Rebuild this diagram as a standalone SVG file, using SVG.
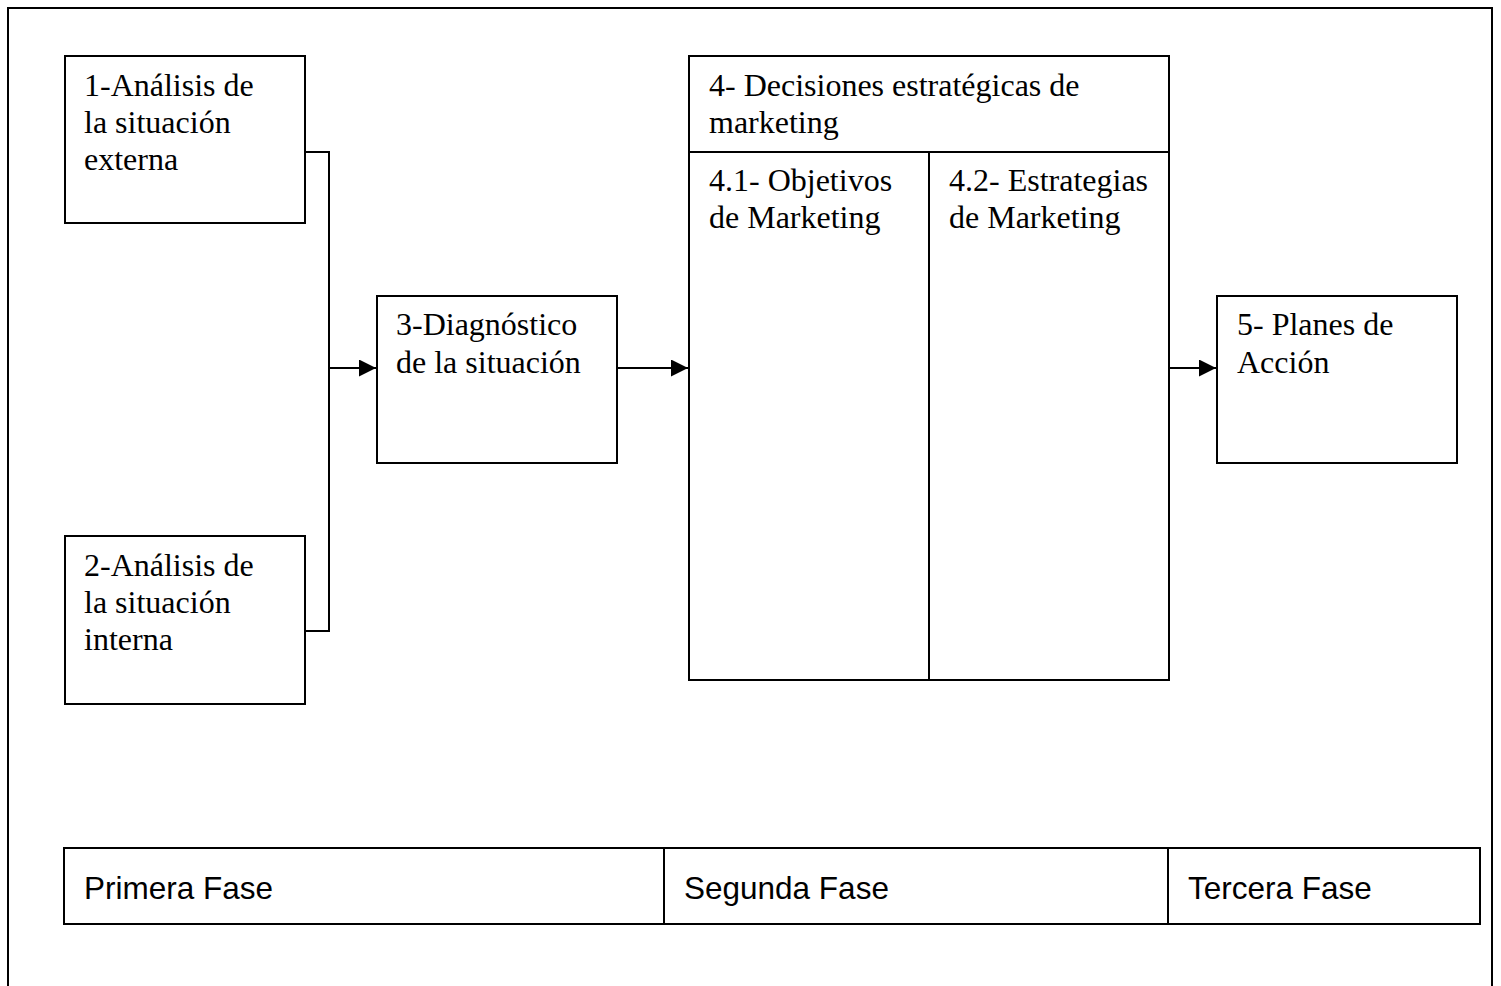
<svg xmlns="http://www.w3.org/2000/svg" width="1501" height="986" viewBox="0 0 1501 986">
<style>
.box{fill:#fff;stroke:#000;stroke-width:2}
.ln{fill:none;stroke:#000;stroke-width:2}
.t{font-family:"Liberation Serif","Times New Roman",serif;font-size:32px;fill:#000}
.s{font-family:"Liberation Sans",Arial,sans-serif;font-size:31.5px;fill:#000}
</style>
<defs>
<marker id="ar" viewBox="0 0 10 10" refX="10" refY="5" markerWidth="17" markerHeight="17" markerUnits="userSpaceOnUse" orient="auto"><path d="M0,0 L10,5 L0,10 z" fill="#000"/></marker>
</defs>
<rect x="0" y="0" width="1501" height="986" fill="#fff"/>
<path class="ln" d="M8,995 V8 H1492 V995"/>
<g id="connectors">
<path class="ln" d="M305,152 H329 V631 H305"/>
<path class="ln" d="M329,368 H376" marker-end="url(#ar)"/>
<path class="ln" d="M617,368 H688" marker-end="url(#ar)"/>
<path class="ln" d="M1169,368 H1216" marker-end="url(#ar)"/>
</g>
<g id="n1"><rect class="box" x="65" y="56" width="240" height="167"/>
<text class="t" x="84" y="96">1-Análisis de</text><text class="t" x="84" y="133">la situación</text><text class="t" x="84" y="170">externa</text></g>
<g id="n2"><rect class="box" x="65" y="536" width="240" height="168"/>
<text class="t" x="84" y="576">2-Análisis de</text><text class="t" x="84" y="613">la situación</text><text class="t" x="84" y="650">interna</text></g>
<g id="n3"><rect class="box" x="377" y="296" width="240" height="167"/>
<text class="t" x="396" y="335">3-Diagnóstico</text><text class="t" x="396" y="373">de la situación</text></g>
<g id="n4"><rect class="box" x="689" y="56" width="480" height="624"/>
<line class="ln" x1="689" y1="152" x2="1169" y2="152"/>
<line class="ln" x1="929" y1="152" x2="929" y2="680"/>
<text class="t" x="709" y="96">4- Decisiones estratégicas de</text><text class="t" x="709" y="133">marketing</text></g>
<g id="n41"><text class="t" x="709" y="191">4.1- Objetivos</text><text class="t" x="709" y="228">de Marketing</text></g>
<g id="n42"><text class="t" x="949" y="191">4.2- Estrategias</text><text class="t" x="949" y="228">de Marketing</text></g>
<g id="n5"><rect class="box" x="1217" y="296" width="240" height="167"/>
<text class="t" x="1237" y="335">5- Planes de</text><text class="t" x="1237" y="373">Acción</text></g>
<g id="phases">
<rect class="box" x="64" y="848" width="1416" height="76"/>
<line class="ln" x1="664" y1="848" x2="664" y2="924"/>
<line class="ln" x1="1168" y1="848" x2="1168" y2="924"/>
<text class="s" x="84" y="899">Primera Fase</text>
<text class="s" x="684" y="899">Segunda Fase</text>
<text class="s" x="1188" y="899">Tercera Fase</text>
</g>
</svg>
